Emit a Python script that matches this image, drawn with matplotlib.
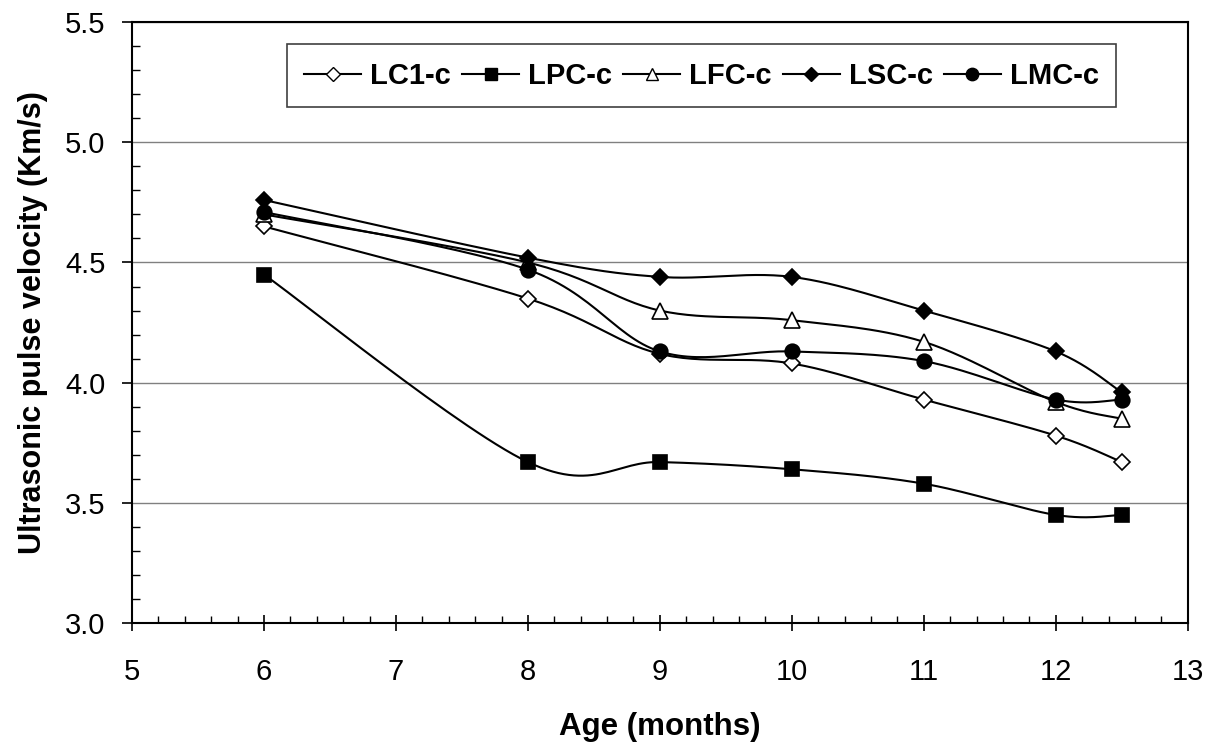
import numpy as np
import matplotlib
matplotlib.use('Agg')
import matplotlib.pyplot as plt
from matplotlib.ticker import MultipleLocator, FormatStrFormatter

plt.rcParams['font.family'] = ['Liberation Sans', 'DejaVu Sans']

# 数据
age = [6, 8, 9, 10, 11, 12, 12.5]
lc1 = [4.65, 4.35, 4.12, 4.08, 3.93, 3.78, 3.67]
lpc = [4.45, 3.67, 3.67, 3.64, 3.58, 3.45, 3.45]
lfc = [4.70, 4.50, 4.30, 4.26, 4.17, 3.92, 3.85]
lsc = [4.76, 4.52, 4.44, 4.44, 4.30, 4.13, 3.96]
lmc = [4.71, 4.47, 4.13, 4.13, 4.09, 3.93, 3.93]
names = ['LC1-c', 'LPC-c', 'LFC-c', 'LSC-c', 'LMC-c']


def smooth(x, y, n=30):
    # Excel 风格的平滑线 (Bezier)
    p = np.column_stack([x, y]).astype(float)
    p = np.vstack([p[0], p, p[-1]])
    out = []
    for i in range(1, len(p) - 2):
        p0, p1, p2, p3 = p[i - 1], p[i], p[i + 1], p[i + 2]
        c1 = p1 + (p2 - p0) / 6
        c2 = p2 - (p3 - p1) / 6
        t = np.linspace(0, 1, n)[:, None]
        seg = (1 - t) ** 3 * p1 + 3 * (1 - t) ** 2 * t * c1 + 3 * (1 - t) * t ** 2 * c2 + t ** 3 * p2
        out.append(seg if i == 1 else seg[1:])
    out = np.vstack(out)
    return out[:, 0], out[:, 1]


fig = plt.figure(figsize=(12.22, 7.49), dpi=100)
ax = fig.add_axes([0.108, 0.168, 0.864, 0.8026])

styles = [
    dict(marker='D', mfc='white', ms=8),
    dict(marker='s', mfc='black', ms=10),
    dict(marker='^', mfc='white', ms=11),
    dict(marker='D', mfc='black', ms=8),
    dict(marker='o', mfc='black', ms=10.5),
]
for vals, name, st in zip([lc1, lpc, lfc, lsc, lmc], names, styles):
    sx, sy = smooth(age, vals)
    ax.plot(sx, sy, color='black', lw=1.5)
    ax.plot(age, vals, ls='none', color='black', mec='black', mew=1.2, **st)
    ax.plot([], [], color='black', lw=1.5, mec='black', mew=1.0, label=name, **st)

ax.set_xlim(5, 13)
ax.set_ylim(3.0, 5.5)
ax.xaxis.set_major_locator(MultipleLocator(1))
ax.xaxis.set_minor_locator(MultipleLocator(0.2))
ax.yaxis.set_major_locator(MultipleLocator(0.5))
ax.yaxis.set_minor_locator(MultipleLocator(0.1))
ax.yaxis.set_major_formatter(FormatStrFormatter('%.1f'))
ax.grid(axis='y', which='major', color='#808080', lw=1)
ax.set_axisbelow(True)

ax.tick_params(axis='x', which='major', direction='inout', length=12, width=1.2, labelsize=21, pad=19)
ax.tick_params(axis='x', which='minor', direction='in', length=5, width=1)
ax.tick_params(axis='y', which='major', direction='out', length=7, width=1.2, labelsize=21, pad=12)
ax.tick_params(axis='y', which='minor', direction='in', length=5.5, width=1)
for s in ax.spines.values():
    s.set_linewidth(1.5)

ax.set_xlabel('Age (months)', fontsize=22.5, fontweight='bold', labelpad=18.5)
ax.set_ylabel('Ultrasonic pulse velocity (Km/s)', fontsize=22, fontweight='bold', labelpad=12)

leg = ax.legend(ncol=5, loc='upper left', bbox_to_anchor=(0.1468, 0.963), borderaxespad=0,
                fancybox=False, edgecolor='#404040', framealpha=1, handlelength=1.95,
                handletextpad=0.31, columnspacing=0.38, markerscale=0.85, borderpad=0.6,
                prop={'size': 21, 'weight': 'bold'})
leg.get_frame().set_linewidth(1.2)

plt.savefig('out.png', dpi=100)
